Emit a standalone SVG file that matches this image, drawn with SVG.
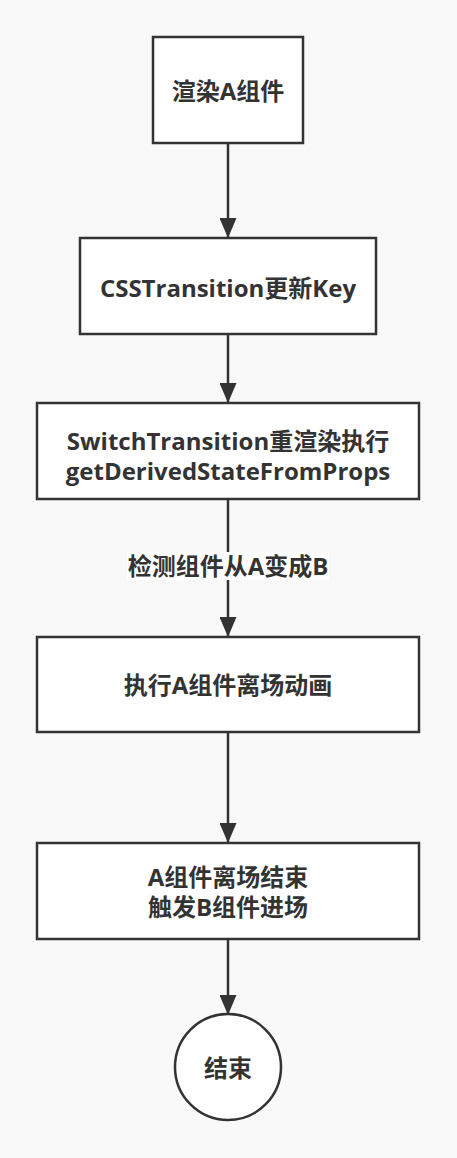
<svg xmlns="http://www.w3.org/2000/svg" width="457" height="1158" viewBox="0 0 457 1158">
<style>
.box{fill:#ffffff;stroke:#333333;stroke-width:2.5}
.t{font-family:"Open Sans","Noto Sans CJK SC",sans-serif;font-weight:bold;font-size:24px;fill:#333333;text-anchor:middle}
.c{stroke:#333333;stroke-width:2.5;fill:none;marker-end:url(#arr)}
</style>
<defs>
<marker id="arr" markerUnits="userSpaceOnUse" markerWidth="20" markerHeight="17" refX="20" refY="8.5" orient="auto">
<path d="M0,0 L20,8.5 L0,17 z" fill="#333333"/>
</marker>
</defs>
<rect width="457" height="1158" fill="#f9f9f9"/>
<g id="connectors">
<path class="c" d="M228,143 L228,238"/>
<path class="c" d="M228,334 L228,403"/>
<path class="c" d="M228,499 L228,637"/>
<path class="c" d="M228,732 L228,843"/>
<path class="c" d="M228,939 L228,1015"/>
<rect x="127" y="552" width="202" height="28" fill="#ffffff"/>
<text class="t" x="228" y="575">检测组件从A变成B</text>
</g>
<g id="n1">
<rect class="box" x="153" y="37" width="150" height="106"/>
<text class="t" x="228" y="100">渲染A组件</text>
</g>
<g id="n2">
<rect class="box" x="80" y="238" width="296" height="96"/>
<text class="t" x="228" y="297">CSSTransition更新Key</text>
</g>
<g id="n3">
<rect class="box" x="37" y="403" width="382" height="96"/>
<text class="t" x="228" y="450">SwitchTransition重渲染执行</text>
<text class="t" x="228" y="480">getDerivedStateFromProps</text>
</g>
<g id="n4">
<rect class="box" x="37" y="637" width="382" height="95"/>
<text class="t" x="228" y="694">执行A组件离场动画</text>
</g>
<g id="n5">
<rect class="box" x="37" y="843" width="382" height="96"/>
<text class="t" x="228" y="886">A组件离场结束</text>
<text class="t" x="228" y="916">触发B组件进场</text>
</g>
<g id="end">
<circle cx="228" cy="1067" r="53" fill="#ffffff" stroke="#333333" stroke-width="2.5"/>
<text class="t" x="228" y="1077">结束</text>
</g>
</svg>
